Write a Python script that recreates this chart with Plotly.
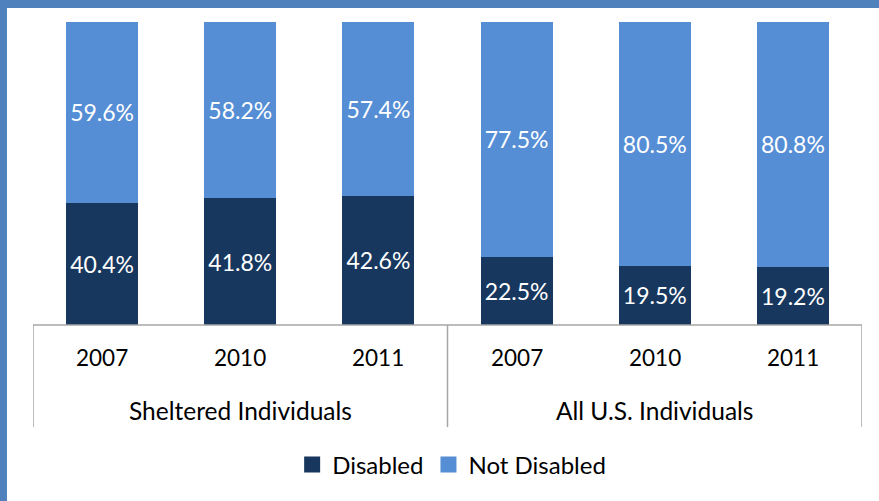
import plotly.graph_objects as go

years = ["2007", "2010", "2011", "2007", "2010", "2011"]
groups = ["Sheltered Individuals", "All U.S. Individuals"]
disabled = [40.4, 41.8, 42.6, 22.5, 19.5, 19.2]
not_disabled = [59.6, 58.2, 57.4, 77.5, 80.5, 80.8]

DARK = "#17375e"
LIGHT = "#558ed5"
FONT = "Lato"

xs = list(range(len(years)))

fig = go.Figure()
for vals, name, col in [(disabled, "Disabled", DARK), (not_disabled, "Not Disabled", LIGHT)]:
    fig.add_trace(go.Bar(
        x=xs, y=vals, name=name, marker_color=col, width=0.52,
        text=[f"{v:.1f}%" for v in vals], textposition="inside",
        insidetextanchor="middle", textfont=dict(color="white", size=23, family=FONT),
        marker_line_width=0, showlegend=False,
    ))
# legend entries
for name, col in [("Disabled", DARK), ("Not Disabled", LIGHT)]:
    fig.add_trace(go.Scatter(
        x=[None], y=[None], mode="markers", name=name,
        marker=dict(symbol="square", size=16, color=col), showlegend=True,
    ))

shapes = []
shapes.append(dict(type="line", xref="x", yref="paper", x0=-0.5, x1=5.5, y0=0, y1=0,
                   line=dict(color="#a6a6a6", width=1.5)))
for xv in [-0.5, 2.5, 5.5]:
    shapes.append(dict(type="line", xref="x", yref="paper", x0=xv, x1=xv, y0=0, y1=-0.337,
                       line=dict(color="#a6a6a6", width=1.5)))
# frame borders (top and left)
shapes.append(dict(type="rect", xref="paper", yref="paper", x0=-0.05, x1=1.05,
                   y0=1.0462, y1=1.08, fillcolor="#4f81bd", line_width=0, layer="above"))
shapes.append(dict(type="rect", xref="paper", yref="paper", x0=-0.05, x1=-0.0314,
                   y0=-0.7, y1=1.08, fillcolor="#4f81bd", line_width=0, layer="above"))

annotations = []
for i, yv in enumerate(years):
    annotations.append(dict(x=i, y=-0.106, xref="x", yref="paper", text=yv, showarrow=False,
                            font=dict(size=22.5, color="black", family=FONT), yanchor="middle"))
for gi, g in enumerate(groups):
    annotations.append(dict(x=1 + 3 * gi, y=-0.281, xref="x", yref="paper", text=g,
                            showarrow=False, font=dict(size=24.5, color="black", family=FONT),
                            yanchor="middle"))

fig.update_layout(
    barmode="stack",
    width=879, height=501,
    margin=dict(l=33, r=17, t=22, b=176),
    paper_bgcolor="white", plot_bgcolor="white",
    xaxis=dict(range=[-0.5, 5.5], showticklabels=False, showgrid=False, zeroline=False,
               showline=False, fixedrange=True),
    yaxis=dict(range=[0, 100], visible=False, showgrid=False, zeroline=False),
    shapes=shapes,
    annotations=annotations,
    legend=dict(orientation="h", x=0.505, xanchor="center", y=-0.462, yanchor="middle",
                font=dict(size=24, color="black", family=FONT), itemwidth=30,
                traceorder="normal"),
    uniformtext=dict(minsize=20, mode="show"),
    showlegend=True,
)

fig.write_html("out.html", config={"displayModeBar": False},
               post_script="document.body.style.margin='0';")
